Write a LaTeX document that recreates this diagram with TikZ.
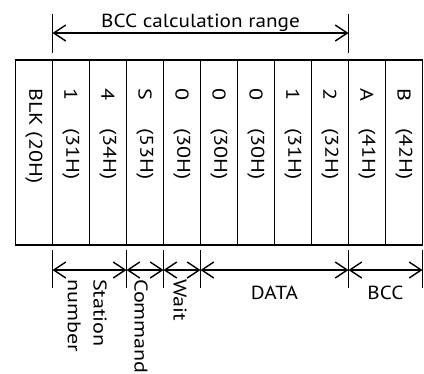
\documentclass[tikz,border=0pt]{standalone}
\usepackage{fontspec}
\setmainfont{PT Sans}
\usetikzlibrary{positioning,arrows.meta}

\begin{document}
\begin{tikzpicture}[x=1bp, y=-1bp, line join=miter,
  cell/.style={draw, line width=1.6bp, minimum width=37bp, minimum height=185bp, inner sep=0pt, outer sep=0pt},
  celltext/.style={rotate=-90, xscale=1.2, anchor=west, inner sep=0pt, font=\fontsize{18.5}{26}\selectfont},
  toptext/.style={xscale=1.12, inner sep=0pt, font=\fontsize{19}{22}\selectfont},
  tick/.style={line width=1.4bp},
  dim/.style={{Straight Barb[length=12bp,width=16bp]}-{Straight Barb[length=12bp,width=16bp]}, line width=1.4bp}]
\useasboundingbox (0,0) rectangle (424,374);

% frame cells
\node[cell, anchor=north west] (blk) at (15.5,60) {};
\node[cell, right=0pt of blk] (st1) {};
\node[cell, right=0pt of st1] (st4) {};
\node[cell, right=0pt of st4] (cmd) {};
\node[cell, right=0pt of cmd] (wt) {};
\node[cell, right=0pt of wt] (da) {};
\node[cell, right=0pt of da] (db) {};
\node[cell, right=0pt of db] (dc) {};
\node[cell, right=0pt of dc] (dd) {};
\node[cell, right=0pt of dd] (ba) {};
\node[cell, right=0pt of ba] (bb) {};

% cell contents
\node[celltext] (tblk) at ([yshift=-28bp]blk.north) {BLK (20H)};
\node[celltext] (cst1) at ([yshift=-28bp]st1.north) {1};
\node[celltext] (hst1) at ([yshift=-68bp]st1.north) {(31H)};
\node[celltext] (cst4) at ([yshift=-28bp]st4.north) {4};
\node[celltext] (hst4) at ([yshift=-68bp]st4.north) {(34H)};
\node[celltext] (ccmd) at ([yshift=-28bp]cmd.north) {S};
\node[celltext] (hcmd) at ([yshift=-68bp]cmd.north) {(53H)};
\node[celltext] (cwt) at ([yshift=-28bp]wt.north) {0};
\node[celltext] (hwt) at ([yshift=-68bp]wt.north) {(30H)};
\node[celltext] (cda) at ([yshift=-28bp]da.north) {0};
\node[celltext] (hda) at ([yshift=-68bp]da.north) {(30H)};
\node[celltext] (cdb) at ([yshift=-28bp]db.north) {0};
\node[celltext] (hdb) at ([yshift=-68bp]db.north) {(30H)};
\node[celltext] (cdc) at ([yshift=-28bp]dc.north) {1};
\node[celltext] (hdc) at ([yshift=-68bp]dc.north) {(31H)};
\node[celltext] (cdd) at ([yshift=-28bp]dd.north) {2};
\node[celltext] (hdd) at ([yshift=-68bp]dd.north) {(32H)};
\node[celltext] (cba) at ([yshift=-28bp]ba.north) {A};
\node[celltext] (hba) at ([yshift=-68bp]ba.north) {(41H)};
\node[celltext] (cbb) at ([yshift=-28bp]bb.north) {B};
\node[celltext] (hbb) at ([yshift=-68bp]bb.north) {(42H)};

% range on top
\draw[tick] ([yshift=7bp]st1.north west) -- ([yshift=46bp]st1.north west);
\draw[tick] ([yshift=7bp]ba.north west) -- ([yshift=46bp]ba.north west);
\coordinate (rgl) at ([yshift=27bp]st1.north west);
\coordinate (rgr) at ([yshift=27bp]ba.north west);
\draw[dim] (rgl) -- (rgr) node[toptext, midway, anchor=base, yshift=6bp] (trg) {BCC calculation range};

% fields below
\draw[tick] ([yshift=-5bp]st1.south west) -- ([yshift=-43bp]st1.south west);
\draw[tick] ([yshift=-5bp]cmd.south west) -- ([yshift=-43bp]cmd.south west);
\draw[tick] ([yshift=-5bp]wt.south west) -- ([yshift=-43bp]wt.south west);
\draw[tick] ([yshift=-5bp]da.south west) -- ([yshift=-43bp]da.south west);
\draw[tick] ([yshift=-5bp]ba.south west) -- ([yshift=-43bp]ba.south west);
\draw[tick] ([yshift=-5bp]bb.south east) -- ([yshift=-43bp]bb.south east);
\coordinate (fst) at ([yshift=-25bp]st1.south west);
\coordinate (fcmd) at ([yshift=-25bp]cmd.south west);
\coordinate (fwt) at ([yshift=-25bp]wt.south west);
\coordinate (fda) at ([yshift=-25bp]da.south west);
\coordinate (fba) at ([yshift=-25bp]ba.south west);
\coordinate (fend) at ([yshift=-25bp]bb.south east);
\draw[dim] (fst) -- (fcmd);
\draw[dim] (fcmd) -- (fwt);
\draw[dim] (fwt) -- (fda);
\draw[dim] (fda) -- (fba) node[toptext, midway, anchor=base, yshift=-29bp] (tdata) {DATA};
\draw[dim] (fba) -- (fend) node[toptext, midway, anchor=base, yshift=-29bp] (tbcc) {BCC};

\node[celltext, align=left, anchor=north west] (tst) at (107,279) {Station\\number};
\node[celltext] (tcmd) at (141,279) {Command};
\node[celltext] (twt) at (180,279) {Wait};
\end{tikzpicture}
\end{document}
